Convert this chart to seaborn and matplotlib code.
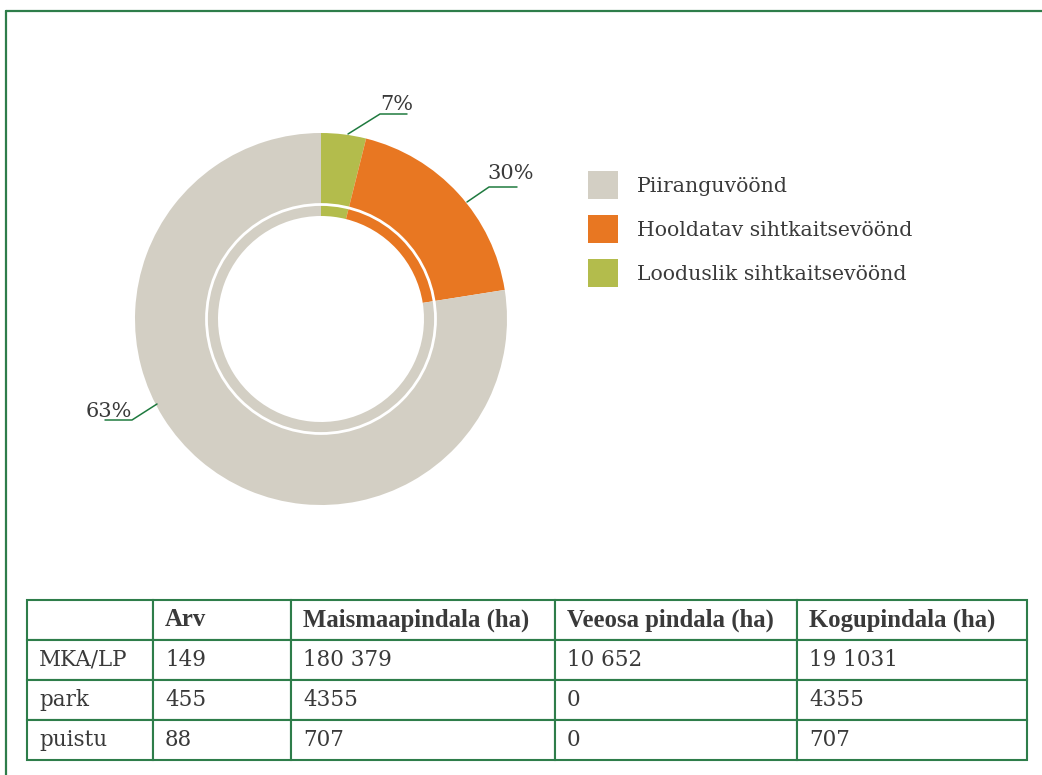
import numpy as np
import pandas as pd
import matplotlib
matplotlib.use("Agg")
import matplotlib.pyplot as plt
import seaborn as sns
from matplotlib.patches import Patch, Circle
from matplotlib.lines import Line2D

# Ring data (clockwise from the top) and the printed labels
zones = ["Looduslik sihtkaitsevöönd", "Hooldatav sihtkaitsevöönd", "Piiranguvöönd"]
ring_share = [3.9, 18.6, 77.5]
pct_labels = ["7%", "30%", "63%"]
zone_colors = ["#B3BC4C", "#E87722", "#D3CFC4"]
legend_order = ["Piiranguvöönd", "Hooldatav sihtkaitsevöönd", "Looduslik sihtkaitsevöönd"]

# Table data
col_labels = ["", "Arv", "Maismaapindala (ha)", "Veeosa pindala (ha)", "Kogupindala (ha)"]
row_names = ["MKA/LP", "park", "puistu"]
arv = ["149", "455", "88"]
maismaa = ["180 379", "4355", "707"]
veeosa = ["10 652", "0", "0"]
kogu = ["19 1031", "4355", "707"]

GREEN = "#2E7D4A"
TEXT = "#3a3a3a"
W, H = 1042, 775

sns.set_theme(style="white")
plt.rcParams["font.family"] = ["DejaVu Serif"]

fig = plt.figure(figsize=(W / 100, H / 100), dpi=100)
ax = fig.add_axes([0, 0, 1, 1])

# donut
cx, cy = 321, H - 319
ax.pie(ring_share, colors=zone_colors, startangle=90, counterclock=False,
       radius=186, center=(cx, cy), wedgeprops=dict(width=83, linewidth=0))
ax.add_patch(Circle((cx, cy), 114.5, fill=False, ec="white", lw=2))
ax.set_xlim(0, W)
ax.set_ylim(0, H)
ax.set_aspect("equal")
ax.axis("off")

# leader lines: anchor, elbow, end (pixel coords, y down) + text position
leaders = [
    [(348, 134), (380, 114), (407, 114)],
    [(467, 202), (489, 187), (517, 187)],
    [(157, 404), (132, 420), (105, 420)],
]
text_pos = [(397, 110), (511, 179), (109, 417)]
for pts, lab, (tx, ty) in zip(leaders, pct_labels, text_pos):
    xs = [p[0] for p in pts]
    ys = [H - p[1] for p in pts]
    ax.add_line(Line2D(xs, ys, color="#1F7A3F", lw=1.1))
    ax.text(tx, H - ty, lab, ha="center", va="baseline", fontsize=15, color=TEXT)

# legend
handles = [Patch(facecolor=zone_colors[zones.index(z)], edgecolor="none") for z in legend_order]
fig.legend(handles, legend_order, loc="upper left", bbox_to_anchor=(588 / W, 1 - 171 / H),
           frameon=False, fontsize=14.7, handlelength=1.47, handleheight=1.76,
           handletextpad=0.93, labelspacing=0.76, borderpad=0, borderaxespad=0,
           labelcolor=TEXT)

# outer frame
fig.add_artist(Line2D([6 / W, 6 / W], [0, 1 - 11 / H], color=GREEN, lw=1.6))
fig.add_artist(Line2D([6 / W, 1], [1 - 11 / H, 1 - 11 / H], color=GREEN, lw=1.6))

# table
tab = pd.DataFrame({"name": row_names, "arv": arv, "maismaa": maismaa,
                    "veeosa": veeosa, "kogu": kogu})
col_px = [126, 138, 264, 242, 230]
tx0, ty0, tw, th = 27, 600, sum(col_px), 160
tax = fig.add_axes([tx0 / W, 1 - (ty0 + th) / H, tw / W, th / H])
tax.axis("off")
table = tax.table(cellText=tab.values.tolist(), colLabels=col_labels,
                  colWidths=[c / tw for c in col_px], bbox=[0, 0, 1, 1],
                  cellLoc="left", colLoc="left")
table.auto_set_font_size(False)
for (r, c), cell in table.get_celld().items():
    cell.set_edgecolor(GREEN)
    cell.set_linewidth(1.5)
    cell.PAD = 12 / col_px[c]
    cell.get_text().set_fontsize(15.5)
    cell.get_text().set_color(TEXT)
    if r == 0:
        cell.get_text().set_fontweight("bold")
        cell.get_text().set_family(["Liberation Serif", "DejaVu Serif"])
        cell.get_text().set_fontsize(17.8)

fig.savefig("out.png", dpi=100)
